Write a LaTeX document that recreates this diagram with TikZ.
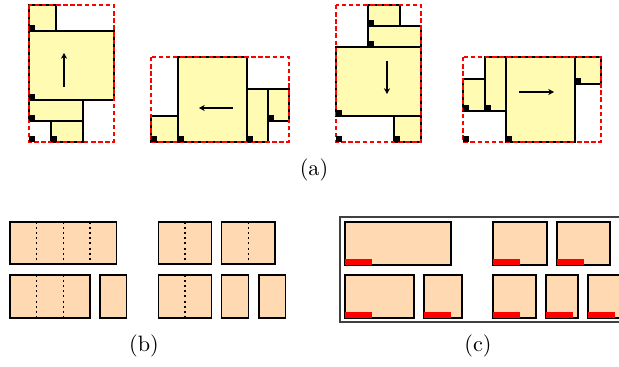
\documentclass[tikz,border=0pt]{standalone}
\usepackage{xcolor}
\usepackage{tikz}
\usetikzlibrary{arrows.meta}

\begin{document}
\begin{tikzpicture}[x=0.45pt,y=-0.45pt,
  item/.style={draw,line width=0.5pt,fill=yellow!30},
  bin/.style={draw=red,line width=0.7pt,dash pattern=on 2pt off 1.2pt},
  pad/.style={fill=black},
  move/.style={line width=0.9pt,-{Stealth[length=2.6pt,width=2.8pt]}},
  part/.style={draw,line width=0.5pt,fill=orange!30},
  cut/.style={line width=0.5pt,dash pattern=on 0.9pt off 1.4pt},
  redbar/.style={fill=red}]
\useasboundingbox (0,0) rectangle (619,367);

% (a) four bins, each pushed in one direction
\foreach \xa/\ya/\xb/\yb in {29/5/56/31, 29/31/114/100, 29/100/83/121, 51/121/83/142,
    151/116/178/142, 178/57/247/142, 247/89/268/142, 268/89/289/121,
    368/5/400/26, 368/26/421/47, 336/47/421/116, 394/116/421/142,
    463/79/485/111, 485/57/506/111, 506/57/575/142, 575/57/601/84}
  \draw[item] (\xa,\ya) rectangle (\xb,\yb);
\draw[bin] (29,5) rectangle (114,142);
\draw[bin] (151,57) rectangle (289,142);
\draw[bin] (336,5) rectangle (421,142);
\draw[bin] (463,57) rectangle (601,142);
\foreach \x/\y in {29/31, 29/100, 29/121, 29/142, 51/142,
    151/142, 178/142, 247/142, 268/121,
    368/26, 368/47, 336/116, 336/142, 394/142,
    463/111, 485/111, 463/142, 506/142, 575/84}
  \fill[pad] (\x,\y) rectangle ++(5.5,-5.5);
\draw[move] (64,87) -- (64,53);
\draw[move] (233,108) -- (199,108);
\draw[move] (387,61) -- (387,94);
\draw[move] (519,92) -- (554,92);
\node (capa) at (314,170) {(a)};

% (b) parts split into columns
\foreach \xa/\ya/\xb/\yb in {10/222/116.7/264, 158.3/222/211.7/264, 221.7/222/275/264,
    10/275/90/318, 100/275/126.7/318, 158.3/275/211.7/318, 221.7/275/248.3/318, 259/275/285.7/318}
  \draw[part] (\xa,\ya) rectangle (\xb,\yb);
\foreach \x/\ya/\yb in {36.7/222/264, 63.3/222/264, 90/222/264, 185/222/264, 248.3/222/264,
    36.7/275/318, 63.3/275/318, 185/275/318}
  \draw[cut] (\x,\ya) -- (\x,\yb);
\node (capb) at (144,346) {(b)};

% (c) parts inside an open strip
\draw[line width=0.5pt,black!75] (630,217) -| (340,322) -- (630,322);
\foreach \xa/\ya/\xb/\yb in {345/222/451/265, 493/222/547/265, 557/222/610/265,
    345/275/414/318, 424/275/462/318, 493/275/536/318, 546/275/578/318, 588/275/630/318}
{
  \draw[part] (\xa,\ya) rectangle (\xb,\yb);
  \fill[redbar] (\xa,\yb) rectangle ++(27,-6);
}
\node (capc) at (478,346) {(c)};
\end{tikzpicture}
\end{document}
